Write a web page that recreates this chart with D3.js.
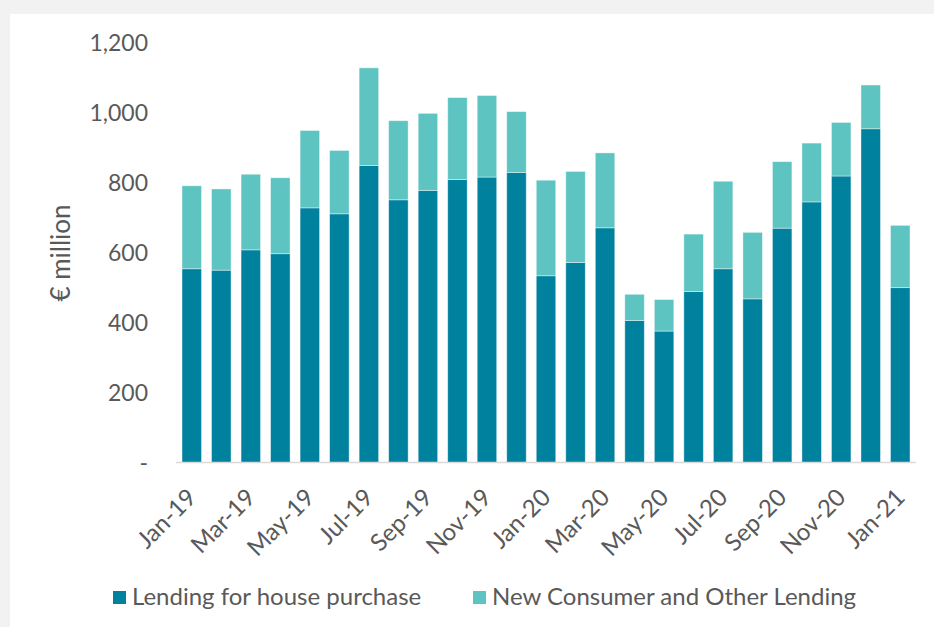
<!DOCTYPE html>
<html lang="en">
<head>
  <meta charset="UTF-8">
  <title>New lending</title>
  <script src="https://d3js.org/d3.v7.min.js"></script>
  <style>
    body { margin: 0; background: #f2f2f2; }
    svg { display: block; }
    text { font-family: Lato, "Open Sans", sans-serif; fill: #595959; }
  </style>
</head>
<body>
  <div id="chart"></div>
  <script>
    // data (€ million)
    const months = ["Jan-19","Feb-19","Mar-19","Apr-19","May-19","Jun-19","Jul-19","Aug-19","Sep-19",
      "Oct-19","Nov-19","Dec-19","Jan-20","Feb-20","Mar-20","Apr-20","May-20","Jun-20","Jul-20",
      "Aug-20","Sep-20","Oct-20","Nov-20","Dec-20","Jan-21"];
    const housePurchase = [555, 551, 609, 598, 729, 712, 850, 752, 779, 810, 817, 830, 535,
      573, 672, 407, 377, 490, 555, 469, 671, 746, 820, 955, 501];
    const totalLending = [792, 783, 825, 815, 950, 893, 1129, 978, 999, 1044, 1050, 1004, 808,
      833, 886, 482, 467, 654, 805, 659, 861, 914, 973, 1080, 679];
    const consumerOther = totalLending.map((t, i) => t - housePurchase[i]);
    const yTicks = [0, 200, 400, 600, 800, 1000, 1200];
    const seriesNames = ["Lending for house purchase", "New Consumer and Other Lending"];
    const colors = ["#00829f", "#5ec4c1"];

    const W = 934, H = 627;
    const svg = d3.select("#chart").append("svg").attr("width", W).attr("height", H);

    // white panel on grey page
    svg.append("rect").attr("x", 0).attr("y", 0).attr("width", W).attr("height", H).attr("fill", "#f2f2f2");
    svg.append("rect").attr("x", 10).attr("y", 14).attr("width", W - 10).attr("height", H - 14).attr("fill", "#fff");

    const x = d3.scaleBand().domain(months).range([177, 915]).paddingInner(0.34).paddingOuter(0.17);
    const y = d3.scaleLinear().domain([0, 1200]).range([463, 43]);

    const rows = months.map((m, i) => ({ month: m, house: housePurchase[i], other: consumerOther[i] }));
    const stacked = d3.stack().keys(["house", "other"])(rows);

    svg.selectAll(".series")
      .data(stacked)
      .enter().append("g")
      .attr("fill", (d, i) => colors[i])
      .selectAll("rect")
      .data(d => d)
      .enter().append("rect")
      .attr("x", d => x(d.data.month))
      .attr("width", x.bandwidth())
      .attr("y", d => y(d[1]))
      .attr("height", d => y(d[0]) - y(d[1]))
      .attr("stroke", "#fff")
      .attr("stroke-opacity", 0.5)
      .attr("stroke-width", 0.8);

    // y axis labels (no line, no ticks)
    const yAxis = svg.append("g")
      .attr("transform", "translate(148,0)")
      .call(d3.axisLeft(y).tickValues(yTicks).tickSize(0).tickPadding(0)
        .tickFormat(d => d === 0 ? "-" : d3.format(",")(d)));
    yAxis.select(".domain").remove();
    yAxis.selectAll("text").style("font-family", "Lato, sans-serif").style("font-size", "23px").attr("fill", "#595959");

    // x axis
    const xAxis = svg.append("g")
      .attr("transform", "translate(0,463)")
      .call(d3.axisBottom(x).tickValues(months.filter((m, i) => i % 2 === 0)).tickSize(0).tickSizeOuter(0));
    xAxis.select(".domain").attr("stroke", "#d9d9d9").attr("stroke-width", 1.5)
      .attr("d", "M176,-0.5H916");
    xAxis.selectAll("text")
      .style("font-family", "Lato, sans-serif").style("font-size", "24px").attr("fill", "#595959")
      .attr("text-anchor", "end")
      .attr("dy", null).attr("y", 0)
      .attr("transform", "translate(6,36) rotate(-45)");

    // y axis title
    svg.append("text")
      .attr("transform", "translate(70,253) rotate(-90)")
      .attr("text-anchor", "middle")
      .style("font-size", "26px")
      .text("€ million");

    // legend
    const legendX = [113, 473];
    const legend = svg.selectAll(".legend")
      .data(seriesNames)
      .enter().append("g")
      .attr("transform", (d, i) => "translate(" + legendX[i] + ",591)");
    legend.append("rect").attr("width", 13).attr("height", 13).attr("fill", (d, i) => colors[i]);
    legend.append("text").attr("x", 19).attr("y", 14).style("font-size", "24px").text(d => d);
  </script>
</body>
</html>
